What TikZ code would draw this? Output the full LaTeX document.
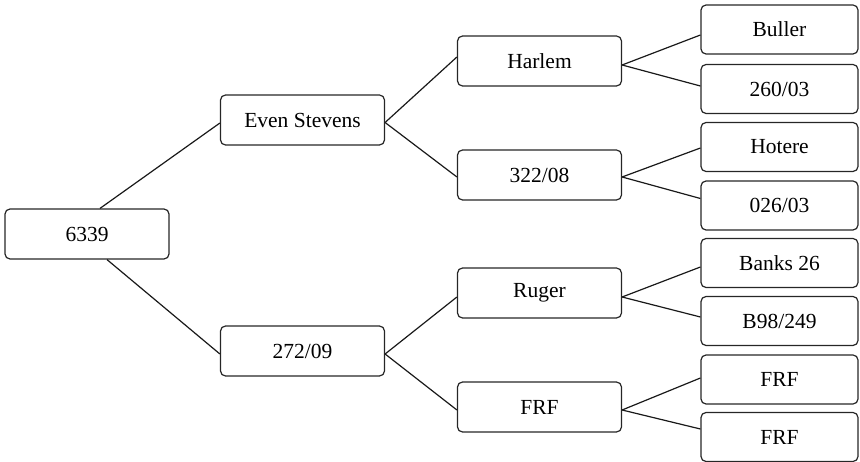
\documentclass[tikz,border=0pt]{standalone}
\usepackage{fontspec}
\setmainfont{Liberation Serif}
\begin{document}
\begin{tikzpicture}[x=1pt,y=-1pt,
  box/.style={draw=black!85, line width=1.2pt, rounded corners=5pt, inner sep=0pt,
    minimum height=50pt, font=\fontsize{21.5}{24}\selectfont},
  mid/.style={box, minimum width=164pt},
  leaf/.style={box, minimum width=157pt, minimum height=49pt},
  link/.style={line width=1.2pt, draw=black!90}]
\useasboundingbox (0,0) rectangle (860,462);
\node[mid] (root) at (87,234) {6339};
\node[mid] (es) at (302.5,120) {Even Stevens};
\node[mid] (n272) at (302.5,351) {272/09};
\node[mid] (harlem) at (539.5,61) {Harlem};
\node[mid] (n322) at (539.5,175) {322/08};
\node[mid] (ruger) at (539.5,293) {Ruger};
\node[mid] (frfm) at (539.5,407) {FRF};
\node[leaf] (buller) at (779.5,29.5) {Buller};
\node[leaf] (n260) at (779.5,89) {260/03};
\node[leaf] (hotere) at (779.5,147) {Hotere};
\node[leaf] (n026) at (779.5,205.5) {026/03};
\node[leaf] (banks) at (779.5,263) {Banks 26};
\node[leaf] (b98) at (779.5,321) {B98/249};
\node[leaf] (frfa) at (779.5,379.5) {FRF};
\node[leaf] (frfb) at (779.5,437) {FRF};
\draw[link] ([xshift=13pt]root.north) -- ([yshift=-3pt]es.west);
\draw[link] ([xshift=20pt]root.south) -- ([yshift=-3pt]n272.west);
\draw[link] ([yshift=-2.5pt]es.east) -- ([yshift=4pt]harlem.west);
\draw[link] ([yshift=-2.5pt]es.east) -- ([yshift=-2pt]n322.west);
\draw[link] ([yshift=-3pt]n272.east) -- ([yshift=-4pt]ruger.west);
\draw[link] ([yshift=-3pt]n272.east) -- ([yshift=-3pt]frfm.west);
\draw[link] ([yshift=-4pt]harlem.east) -- ([yshift=-5.5pt]buller.west);
\draw[link] ([yshift=-4pt]harlem.east) -- ([yshift=3pt]n260.west);
\draw[link] ([yshift=-2pt]n322.east) -- ([yshift=-1pt]hotere.west);
\draw[link] ([yshift=-2pt]n322.east) -- ([yshift=7pt]n026.west);
\draw[link] ([yshift=-4pt]ruger.east) -- ([yshift=-4pt]banks.west);
\draw[link] ([yshift=-4pt]ruger.east) -- ([yshift=4pt]b98.west);
\draw[link] ([yshift=-3pt]frfm.east) -- ([yshift=1.5pt]frfa.west);
\draw[link] ([yshift=-3pt]frfm.east) -- ([yshift=8pt]frfb.west);
\end{tikzpicture}
\end{document}
